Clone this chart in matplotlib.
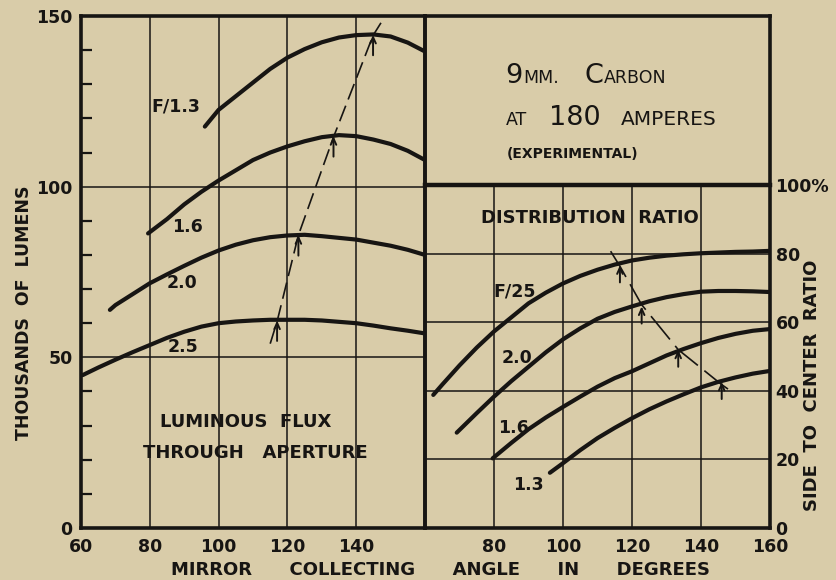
import matplotlib
matplotlib.use("Agg")
import matplotlib.pyplot as plt
import numpy as np

# ---------------- data ----------------
# Left panel: luminous flux through aperture (thousands of lumens)
lum_f13_x = [96, 100, 105, 110, 115, 120, 125, 130, 135, 140, 145, 150, 155, 160]
lum_f13_y = [117.6, 122.5, 126.5, 130.5, 134.5, 137.8, 140.3, 142.3, 143.7, 144.4, 144.6, 144.0, 142.2, 139.6]
lum_f16_x = [79.5, 85, 90, 95, 100, 105, 110, 115, 120, 125, 130, 135, 140, 145, 150, 155, 160]
lum_f16_y = [86.3, 90.5, 94.8, 98.5, 101.8, 104.8, 107.8, 110.0, 111.8, 113.3, 114.5, 115.1, 114.8, 113.8, 112.5, 110.5, 107.8]
lum_f20_x = [68.4, 70, 75, 80, 85, 90, 95, 100, 105, 110, 115, 120, 125, 130, 135, 140, 145, 150, 155, 160]
lum_f20_y = [63.9, 65.3, 68.5, 71.7, 74.3, 76.8, 79.2, 81.3, 83.0, 84.3, 85.2, 85.7, 85.9, 85.5, 85.0, 84.5, 83.6, 82.7, 81.5, 80.0]
lum_f25_x = [60.5, 65, 70, 75, 80, 85, 90, 95, 100, 105, 110, 115, 120, 125, 130, 135, 140, 145, 150, 155, 160]
lum_f25_y = [44.8, 47.0, 49.3, 51.5, 53.6, 55.7, 57.5, 59.0, 60.0, 60.5, 60.8, 61.0, 61.0, 61.0, 60.8, 60.4, 60.0, 59.3, 58.5, 57.8, 57.0]
lum_locus_x = [115, 117, 123.2, 133.4, 144.9, 147.2]
lum_locus_y = [54, 60.5, 85.8, 114.5, 144.3, 148]
lum_arrow_x = [117, 123.2, 133.4, 144.9]
lum_arrow_y = [60.8, 85.8, 114.8, 144.5]
lum_labels = ["F/1.3", "1.6", "2.0", "2.5"]

# Right panel: distribution ratio (side to center, %)
dist_f25_x = [62.4, 65, 70, 75, 80, 85, 90, 95, 100, 105, 110, 115, 120, 125, 130, 135, 140, 145, 150, 155, 160]
dist_f25_y = [38.8, 41.8, 47.4, 52.6, 57.3, 61.4, 65.5, 68.6, 71.3, 73.5, 75.3, 76.8, 78.0, 78.8, 79.4, 79.8, 80.1, 80.3, 80.5, 80.6, 80.8]
dist_f20_x = [69.2, 75, 80, 85, 90, 95, 100, 105, 110, 115, 120, 125, 130, 135, 140, 145, 150, 155, 160]
dist_f20_y = [27.8, 33.5, 38.3, 42.8, 47.0, 51.2, 55.0, 58.2, 61.0, 63.0, 64.6, 66.1, 67.3, 68.2, 68.9, 69.1, 69.1, 69.0, 68.8]
dist_f16_x = [79.6, 85, 90, 95, 100, 105, 110, 115, 120, 125, 130, 135, 140, 145, 150, 155, 160]
dist_f16_y = [20.3, 24.8, 28.8, 32.2, 35.3, 38.3, 41.2, 43.7, 45.7, 48.0, 50.3, 52.2, 53.9, 55.4, 56.6, 57.5, 58.0]
dist_f13_x = [96.2, 100, 105, 110, 115, 120, 125, 130, 135, 140, 145, 150, 155, 160]
dist_f13_y = [16.1, 18.9, 22.7, 26.2, 29.2, 32.0, 34.6, 36.9, 39.0, 41.0, 42.6, 43.9, 45.0, 45.8]
dist_locus_x = [113.8, 116.5, 122.8, 133.4, 146.0, 148.4]
dist_locus_y = [80.7, 76.3, 65.1, 52.0, 41.8, 40.1]
dist_arrow_x = [116.5, 122.8, 133.4, 146.0]
dist_arrow_y = [76.6, 64.6, 52.0, 42.6]
dist_labels = ["F/25", "2.0", "1.6", "1.3"]

left_xticks = [60, 80, 100, 120, 140]
right_xticks = [80, 100, 120, 140, 160]
left_yticks = [0, 50, 100, 150]
left_yminor = [10, 20, 30, 40, 60, 70, 80, 90, 110, 120, 130, 140]
right_yticks = [0, 20, 40, 60, 80, 100]
right_yticklabels = ["0", "20", "40", "60", "80", "100%"]

# ---------------- style ----------------
W, H = 837, 580
BG = "#d9cca9"
INK = "#171513"
FONT = "DejaVu Sans"
WT = "bold"
plt.rcParams["font.family"] = [FONT]
plt.rcParams["font.weight"] = WT
plt.rcParams["text.color"] = INK

fig = plt.figure(figsize=(W / 100, H / 100), dpi=100, facecolor=BG)


def rect(l, t, r, b):
    return [l / W, 1 - b / H, (r - l) / W, (b - t) / H]


axL = fig.add_axes(rect(81, 16, 425, 528))
axR = fig.add_axes(rect(425, 185, 770, 528))
axB = fig.add_axes(rect(425, 16, 770, 185))

for ax in (axL, axR, axB):
    ax.set_facecolor("none")
    for s in ax.spines.values():
        s.set_linewidth(2.6)
        s.set_color(INK)

GRID_LW = 1.1
CURVE_LW = 3.0
TICK_FS = 12.5

# ---- left panel ----
axL.set_xlim(60, 160)
axL.set_ylim(0, 150)
axL.set_xticks(left_xticks)
axL.set_xticklabels([str(v) for v in left_xticks], fontweight=WT)
axL.set_yticks(left_yticks)
axL.set_yticklabels([str(v) for v in left_yticks], fontweight=WT)
axL.set_yticks(left_yminor, minor=True)
axL.tick_params(axis="both", which="major", length=0, labelsize=TICK_FS, colors=INK)
axL.tick_params(axis="x", which="major", pad=7)
axL.tick_params(axis="y", which="major", pad=6)
axL.tick_params(axis="y", which="minor", direction="in", length=8, width=1.6, color=INK)
for v in [80, 100, 120, 140]:
    axL.axvline(v, lw=GRID_LW, color=INK, zorder=1)
for v in [50, 100]:
    axL.axhline(v, lw=GRID_LW, color=INK, zorder=1)

for xs, ys in [(lum_f13_x, lum_f13_y), (lum_f16_x, lum_f16_y), (lum_f20_x, lum_f20_y), (lum_f25_x, lum_f25_y)]:
    axL.plot(xs, ys, color=INK, lw=CURVE_LW, solid_capstyle="round", solid_joinstyle="round", zorder=3)
axL.plot(lum_locus_x, lum_locus_y, color=INK, lw=1.2, linestyle=(0, (10, 4)), zorder=3)
for x, y in zip(lum_arrow_x, lum_arrow_y):
    axL.annotate("", xy=(x, y), xytext=(x, y - 6),
                 arrowprops=dict(arrowstyle="->,head_length=0.45,head_width=0.2", lw=1.4,
                                 color=INK, shrinkA=0, shrinkB=0))

lum_label_pos = [(80.6, 123.4), (86.4, 88.2), (84.9, 71.8), (85.2, 53.0)]
for lab, (x, y) in zip(lum_labels, lum_label_pos):
    axL.text(x, y, lab, fontsize=12.5, ha="left", va="center", color=INK)
axL.text(107.8, 31.1, "LUMINOUS  FLUX", fontsize=13, ha="center", va="center", color=INK)
axL.text(110.7, 22.0, "THROUGH   APERTURE", fontsize=13, ha="center", va="center", color=INK)

# ---- right panel ----
axR.set_xlim(60, 160)
axR.set_ylim(0, 100)
axR.set_xticks(right_xticks)
axR.set_xticklabels([str(v) for v in right_xticks], fontweight=WT)
axR.set_yticks(right_yticks)
axR.set_yticklabels(right_yticklabels, fontweight=WT)
axR.yaxis.tick_right()
axR.tick_params(axis="both", which="major", length=0, labelsize=TICK_FS, colors=INK)
axR.tick_params(axis="x", pad=7)
axR.tick_params(axis="y", pad=4)
axR.spines["top"].set_linewidth(3.2)
for v in [80, 100, 120, 140]:
    axR.axvline(v, lw=GRID_LW, color=INK, zorder=1)
for v in [20, 40, 60, 80]:
    axR.axhline(v, lw=GRID_LW, color=INK, zorder=1)

for xs, ys in [(dist_f25_x, dist_f25_y), (dist_f20_x, dist_f20_y), (dist_f16_x, dist_f16_y), (dist_f13_x, dist_f13_y)]:
    axR.plot(xs, ys, color=INK, lw=CURVE_LW, solid_capstyle="round", solid_joinstyle="round", zorder=3)
axR.plot(dist_locus_x, dist_locus_y, color=INK, lw=1.2, linestyle=(0, (18, 5)), zorder=3)
for x, y in zip(dist_arrow_x, dist_arrow_y):
    axR.annotate("", xy=(x, y), xytext=(x, y - 5),
                 arrowprops=dict(arrowstyle="->,head_length=0.45,head_width=0.2", lw=1.4,
                                 color=INK, shrinkA=0, shrinkB=0))

dist_label_pos = [(79.7, 68.9), (82.3, 49.6), (81.2, 29.2), (85.5, 12.6)]
for lab, (x, y) in zip(dist_labels, dist_label_pos):
    axR.text(x, y, lab, fontsize=12.5, ha="left", va="center", color=INK)
axR.text(107.8, 90.5, "DISTRIBUTION  RATIO", fontsize=13, ha="center", va="center", color=INK)

# ---- title box ----
axB.set_xticks([])
axB.set_yticks([])

renderer = fig.canvas.get_renderer()


def run(x_px, base_px, parts, weight="normal"):
    x = x_px
    for txt, size, gap in parts:
        t = fig.text(x / W, 1 - base_px / H, txt, fontsize=size, ha="left", va="baseline",
                     color=INK, fontweight=weight)
        bb = t.get_window_extent(renderer=renderer)
        x = x + bb.width + gap


run(505, 83, [("9", 19.5, 1), ("MM.", 12.5, 26), ("C", 19.5, 0), ("ARBON", 12.5, 0)])
run(506, 125, [("AT", 12.5, 22), ("180", 19.5, 20), ("AMPERES", 14.5, 0)])
run(507, 158, [("(EXPERIMENTAL)", 10, 0)], weight="bold")

# ---- axis titles ----
fig.text(24 / W, 1 - 313 / H, "THOUSANDS  OF  LUMENS", rotation=90, fontsize=12.5,
         ha="center", va="center", color=INK)
fig.text(812 / W, 1 - 385 / H, "SIDE  TO  CENTER  RATIO", rotation=90, fontsize=13,
         ha="center", va="center", color=INK)
fig.text(441 / W, 1 - 570 / H, "MIRROR      COLLECTING      ANGLE      IN      DEGREES", fontsize=13,
         ha="center", va="center", color=INK)

fig.savefig("out.png", dpi=100, facecolor=BG)
